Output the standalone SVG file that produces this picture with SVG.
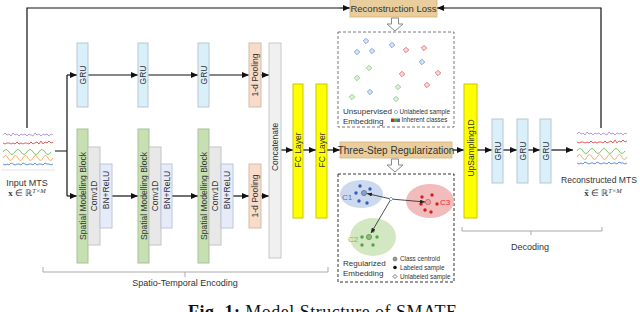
<svg xmlns="http://www.w3.org/2000/svg" xmlns:xlink="http://www.w3.org/1999/xlink" width="640" height="312" viewBox="0 0 640 312">
<style>
text{font-family:"Liberation Sans",Arial,sans-serif;fill:#333}
.l{font-size:8.5px;text-anchor:middle;dominant-baseline:central}
.s{font-size:9px}
.e{font-size:8px}
.t{font-size:6.3px}
.gru{fill:#d9f0fb;stroke:#b9c7cf;stroke-width:1}
.smb{fill:#c6e0b2;stroke:#a9bf9a;stroke-width:1}
.conv{fill:#e8e8e8;stroke:#c4c4c4;stroke-width:1}
.bn{fill:#e5ebf8;stroke:#bcc6dc;stroke-width:1}
.pool{fill:#f8dcc9;stroke:#d6bba9;stroke-width:1}
.cat{fill:#f0f0f0;stroke:#c8c8c8;stroke-width:1}
.fc{fill:#ffff00;stroke:#c9c900;stroke-width:1}
.tan{fill:#e9cd9c;stroke:#d2b582;stroke-width:0.8}
.ln{fill:none;stroke:#111;stroke-width:1.2}
.ar{fill:none;stroke:#111;stroke-width:1.2;marker-end:url(#ah)}
.thin{fill:none;stroke:#222;stroke-width:0.8;marker-end:url(#ahs)}
.br{fill:none;stroke:#aaa;stroke-width:1}
.dash{fill:#fff;stroke:#777;stroke-width:1;stroke-dasharray:3,2}
.hollow{fill:#fff;stroke:#8a8a8a;stroke-width:1}
</style>
<defs>
<marker id="ah" markerUnits="userSpaceOnUse" markerWidth="7" markerHeight="6" refX="7" refY="3" orient="auto"><path d="M0,0 L7,3 L0,6 z" fill="#111"/></marker>
<marker id="ahs" markerUnits="userSpaceOnUse" markerWidth="5" markerHeight="4" refX="5" refY="2" orient="auto"><path d="M0,0 L5,2 L0,4 z" fill="#222"/></marker>
<path id="dia" d="M0,-2.6 L2.6,0 L0,2.6 L-2.6,0 Z M0,-0.5 L0,0.5" fill="#fff" stroke="currentColor" stroke-width="0.9"/>
<g id="waves" fill="none" stroke-width="0.9">
<path stroke="#b48fdc" d="M3,135 l2,-2 l2,2 l2,-1 l2,2 l2,-3 l2,2 l2,-1 l2,2 l2,-2 l2,1 l2,-1 l2,2 l2,-2 l2,1 l2,1 l2,-3 l2,2 l2,-1 l2,2 l2,-2 l2,1 l2,-1 l2,2 l2,-2 l2,1"/>
<path stroke="#e24d4d" d="M3,143 l2,1 l2,-1 l2,0 l2,1 l2,-1 l2,1 l2,-2 l2,2 l2,-1 l2,1 l2,-1 l2,0 l2,1 l2,-2 l2,2 l2,-1 l2,-1 l2,2 l2,-3 l2,3 l2,-2 l2,1 l2,-2 l2,2 l2,-1"/>
<path stroke="#6cbf5c" d="M3,152 q3,-5 6,0 t6,0 t6,0 t6,0 t6,0 t6,0 t6,0 t6,0"/>
<path stroke="#f5a657" d="M3,158 q2.5,-5 5,0 t5,0 t5,0 t5,0 t5,0 t5,0 t5,0 t5,0 t5,0 t5,0"/>
<path stroke="#4f86d6" d="M3,164 l2,1 l2,-1 l2,1 l2,-2 l2,1 l2,1 l2,-1 l2,0 l2,1 l2,-2 l2,1 l2,1 l2,-1 l2,0 l2,1 l2,-2 l2,2 l2,-1 l2,0 l2,1 l2,-2 l2,1 l2,0 l2,1 l2,-1"/>
</g>
</defs>
<rect width="640" height="312" fill="#fff"/>

<g id="connectors">
<path class="ln" d="M27,128 V8 H340"/>
<path class="ar" d="M340,8 H350"/>
<path class="ln" d="M601,128 V8 H445"/>
<path class="ar" d="M445,8 H437"/>
<path class="ln" d="M54,151 H67 M67,75 V196"/>
<path class="ar" d="M67,75 H77"/>
<path class="ar" d="M67,196 H77"/>
<path class="ar" d="M88,75 H138"/>
<path class="ar" d="M148,75 H198"/>
<path class="ar" d="M209,75 H249"/>
<path class="ar" d="M261,75 H269"/>
<path class="ar" d="M112,196 H138"/>
<path class="ar" d="M172,196 H198"/>
<path class="ar" d="M233,196 H249"/>
<path class="ar" d="M261,196 H269"/>
<path class="ar" d="M281,150 H293"/>
<path class="ar" d="M303,150 H316"/>
<path class="ar" d="M327,150 H340"/>
<path class="ar" d="M452,150 H464"/>
<path class="ar" d="M477,150 H492"/>
<path class="ar" d="M503,150 H517"/>
<path class="ar" d="M528,150 H540"/>
<path class="ar" d="M551,150 H573"/>
</g>

<g id="input-mts">
<rect x="1" y="129" width="54" height="41" fill="#fff"/>
<use xlink:href="#waves"/>
<line x1="1" y1="170" x2="55" y2="170" stroke="#e4e4e4" stroke-width="1"/>
<text class="s" x="27" y="186" text-anchor="middle">Input MTS</text>
<text x="27" y="196" text-anchor="middle" style="font-family:'Liberation Serif',serif;font-size:9px"><tspan font-weight="bold">x</tspan> ∈ ℝ<tspan dy="-3" font-size="6.5px" font-style="italic">T×M</tspan></text>
</g>

<g id="gru1"><rect class="gru" x="77" y="43" width="11" height="64"/><text class="l" transform="translate(82.5,75) rotate(-90)">GRU</text></g>
<g id="gru2"><rect class="gru" x="138" y="43" width="10" height="64"/><text class="l" transform="translate(143,75) rotate(-90)">GRU</text></g>
<g id="gru3"><rect class="gru" x="198" y="43" width="11" height="64"/><text class="l" transform="translate(203.5,75) rotate(-90)">GRU</text></g>
<g id="pool1"><rect class="pool" x="249" y="43" width="12" height="64"/><text class="l" transform="translate(255,75) rotate(-90)">1-d Pooling</text></g>

<g id="block1">
<rect class="smb" x="77" y="129" width="11" height="134"/><text class="l" transform="translate(82.5,196) rotate(-90)">Spatial Modelling Block</text>
<rect class="conv" x="88" y="147" width="12" height="98"/><text class="l" transform="translate(94,196) rotate(-90)">Conv1D</text>
<rect class="bn" x="100" y="164" width="12" height="64"/><text class="l" transform="translate(106,190) rotate(-90)">BN+ReLU</text>
</g>
<g id="block2">
<rect class="smb" x="138" y="129" width="11" height="134"/><text class="l" transform="translate(143.5,196) rotate(-90)">Spatial Modelling Block</text>
<rect class="conv" x="149" y="147" width="12" height="98"/><text class="l" transform="translate(155,196) rotate(-90)">Conv1D</text>
<rect class="bn" x="161" y="164" width="11" height="64"/><text class="l" transform="translate(166.5,190) rotate(-90)">BN+ReLU</text>
</g>
<g id="block3">
<rect class="smb" x="198" y="129" width="11" height="134"/><text class="l" transform="translate(203.5,196) rotate(-90)">Spatial Modelling Block</text>
<rect class="conv" x="209" y="147" width="12" height="98"/><text class="l" transform="translate(215,196) rotate(-90)">Conv1D</text>
<rect class="bn" x="221" y="164" width="12" height="64"/><text class="l" transform="translate(227,190) rotate(-90)">BN+ReLU</text>
</g>
<g id="pool2"><rect class="pool" x="249" y="164" width="12" height="64"/><text class="l" transform="translate(255,196) rotate(-90)">1-d Pooling</text></g>

<g id="concat"><rect class="cat" x="269" y="43" width="12" height="215"/><text class="l" transform="translate(275,147) rotate(-90)">Concatenate</text></g>
<g id="fc1"><rect class="fc" x="293" y="84" width="10" height="134"/><text class="l" transform="translate(298,150) rotate(-90)">FC Layer</text></g>
<g id="fc2"><rect class="fc" x="316" y="84" width="11" height="134"/><text class="l" transform="translate(321.5,150) rotate(-90)">FC Layer</text></g>

<g id="encoding-bracket">
<path class="br" d="M43,267 V272 H328 V267 M185,272 V277"/>
<text class="s" x="185" y="286" text-anchor="middle">Spatio-Temporal Encoding</text>
</g>

<g id="recon-loss">
<rect class="tan" x="350" y="-1" width="87" height="18"/>
<text x="393.5" y="12" text-anchor="middle" style="font-size:9.5px">Reconstruction Loss</text>
</g>
<path class="hollow" d="M391.5,18 H398.5 V24 H403 L395,31 L387,24 H391.5 Z"/>

<g id="unsup-emb">
<rect class="dash" x="338" y="32" width="116" height="95"/>
<g>
<use xlink:href="#dia" x="366" y="41" color="#4f86d6"/>
<use xlink:href="#dia" x="357" y="52" color="#4f86d6"/>
<use xlink:href="#dia" x="372" y="51" color="#4f86d6"/>
<use xlink:href="#dia" x="392" y="45" color="#4f86d6"/>
<use xlink:href="#dia" x="422" y="62" color="#4f86d6"/>
<use xlink:href="#dia" x="370" y="92" color="#4f86d6"/>
<use xlink:href="#dia" x="406" y="50" color="#e24d4d"/>
<use xlink:href="#dia" x="424" y="48" color="#e24d4d"/>
<use xlink:href="#dia" x="402" y="74" color="#e24d4d"/>
<use xlink:href="#dia" x="438" y="73" color="#e24d4d"/>
<use xlink:href="#dia" x="427" y="85" color="#e24d4d"/>
<use xlink:href="#dia" x="369" y="68" color="#6cbf5c"/>
<use xlink:href="#dia" x="357" y="78" color="#6cbf5c"/>
<use xlink:href="#dia" x="398" y="87" color="#6cbf5c"/>
<use xlink:href="#dia" x="352" y="97" color="#6cbf5c"/>
<use xlink:href="#dia" x="396" y="99" color="#6cbf5c"/>
</g>
<rect x="390" y="106" width="63" height="20" fill="#fff"/>
<text class="e" x="343" y="114">Unsupervised</text>
<text class="e" x="343" y="124">Embedding</text>
<circle cx="396" cy="112" r="1.6" fill="#fff" stroke="#6a8fc8" stroke-width="0.7"/>
<text class="t" x="399.5" y="114.2">Unlabeled sample</text>
<rect x="391" y="118.5" width="3" height="3.5" fill="#e02020"/>
<rect x="394" y="118.5" width="3" height="3.5" fill="#5aa84a"/>
<rect x="397" y="118.5" width="3" height="3.5" fill="#3f72c9"/>
<text class="t" x="401.5" y="122.3">Inherent classes</text>
</g>

<g id="three-step">
<rect class="tan" x="340" y="142" width="112" height="16"/>
<text x="396" y="153.5" text-anchor="middle" style="font-size:10px">Three-Step Regularization</text>
</g>
<path class="hollow" d="M391.5,159 H398.5 V165 H403 L395,172 L387,165 H391.5 Z"/>

<g id="reg-emb">
<rect class="dash" x="338" y="174" width="116" height="108" style="stroke:#333"/>
<ellipse cx="361.5" cy="194" rx="21.5" ry="14" fill="#cdd9ef"/>
<ellipse cx="430" cy="201" rx="24" ry="17" fill="#f3bcbc"/>
<ellipse cx="373" cy="237" rx="23" ry="19" fill="#d3e8c2"/>
<g fill="#2f5fb8">
<circle cx="360" cy="186" r="1.7"/><circle cx="370" cy="189" r="1.7"/><circle cx="356" cy="193" r="1.7"/><circle cx="359" cy="201" r="1.7"/><circle cx="367" cy="203" r="1.7"/>
</g>
<circle cx="364" cy="193" r="2.6" fill="#8aa0c4" stroke="#5a6f94" stroke-width="0.7"/>
<g fill="#d81e1e">
<circle cx="422" cy="197" r="1.7"/><circle cx="432" cy="195" r="1.7"/><circle cx="437" cy="204" r="1.7"/><circle cx="425" cy="210" r="1.7"/><circle cx="431" cy="212" r="1.7"/><circle cx="421" cy="204" r="1.7"/>
</g>
<circle cx="428" cy="202" r="2.6" fill="#e8a0a0" stroke="#b86060" stroke-width="0.7"/>
<g fill="#4fa83e">
<circle cx="373" cy="231" r="1.7"/><circle cx="362" cy="237" r="1.7"/><circle cx="377" cy="237" r="1.7"/><circle cx="362" cy="245" r="1.7"/><circle cx="373" cy="245" r="1.7"/>
</g>
<circle cx="369" cy="237" r="2.6" fill="#90b880" stroke="#5e8a4e" stroke-width="0.7"/>
<text x="342" y="200" style="font-size:8px;fill:#4a78c8">C1</text>
<text x="440" y="205" style="font-size:8px;fill:#d83030">C3</text>
<text x="348" y="242" style="font-size:8px;fill:#6cbf5c">C2</text>
<path class="thin" d="M391,199 L367,193.5"/>
<path class="thin" d="M391,199 L425,202"/>
<path class="thin" d="M391,199 L371,233"/>
<path d="M391,197 L393,199 L391,201 L389,199 Z" fill="#fff" stroke="#6a8fc8" stroke-width="0.8"/>
<text class="e" x="343" y="266">Regularized</text>
<text class="e" x="343" y="276">Embedding</text>
<rect x="391" y="253" width="62" height="28" fill="#fff"/>
<circle cx="395" cy="259" r="2" fill="#999" stroke="#666" stroke-width="0.6"/>
<text class="t" x="400" y="261.2">Class centroid</text>
<circle cx="395" cy="267.5" r="1.8" fill="#111"/>
<text class="t" x="400" y="269.7">Labeled sample</text>
<path d="M395,274.5 L397,276.5 L395,278.5 L393,276.5 Z" fill="#fff" stroke="#444" stroke-width="0.7"/>
<text class="t" x="400" y="278.7">Unlabeled sample</text>
</g>

<g id="upsample"><rect class="fc" x="464" y="84" width="13" height="134"/><text class="l" transform="translate(470.5,148) rotate(-90)">UpSampling1D</text></g>
<g id="dgru1"><rect class="gru" x="492" y="119" width="11" height="64"/><text class="l" transform="translate(497.5,151) rotate(-90)">GRU</text></g>
<g id="dgru2"><rect class="gru" x="517" y="119" width="11" height="64"/><text class="l" transform="translate(522.5,151) rotate(-90)">GRU</text></g>
<g id="dgru3"><rect class="gru" x="540" y="119" width="11" height="64"/><text class="l" transform="translate(545.5,151) rotate(-90)">GRU</text></g>

<g id="output-mts">
<rect x="576" y="128" width="53" height="40" fill="#fff"/>
<use xlink:href="#waves" transform="translate(574,-1)"/>
<text x="599" y="183" text-anchor="middle" style="font-size:8.6px">Reconstructed MTS</text>
<text x="603" y="196" text-anchor="middle" style="font-family:'Liberation Serif',serif;font-size:9px"><tspan font-weight="bold">x̂</tspan> ∈ ℝ<tspan dy="-3" font-size="6.5px" font-style="italic">T×M</tspan></text>
</g>

<g id="decoding-bracket">
<path class="br" d="M462,227 V231 H602 V227 M531,231 V235"/>
<text class="s" x="530" y="250" text-anchor="middle">Decoding</text>
</g>

<text x="322.5" y="318" text-anchor="middle" textLength="269" lengthAdjust="spacing" style="font-family:'Liberation Serif',serif;font-size:18px;fill:#111"><tspan font-weight="bold">Fig. 1:</tspan> Model Structure of SMATE</text>
</svg>
